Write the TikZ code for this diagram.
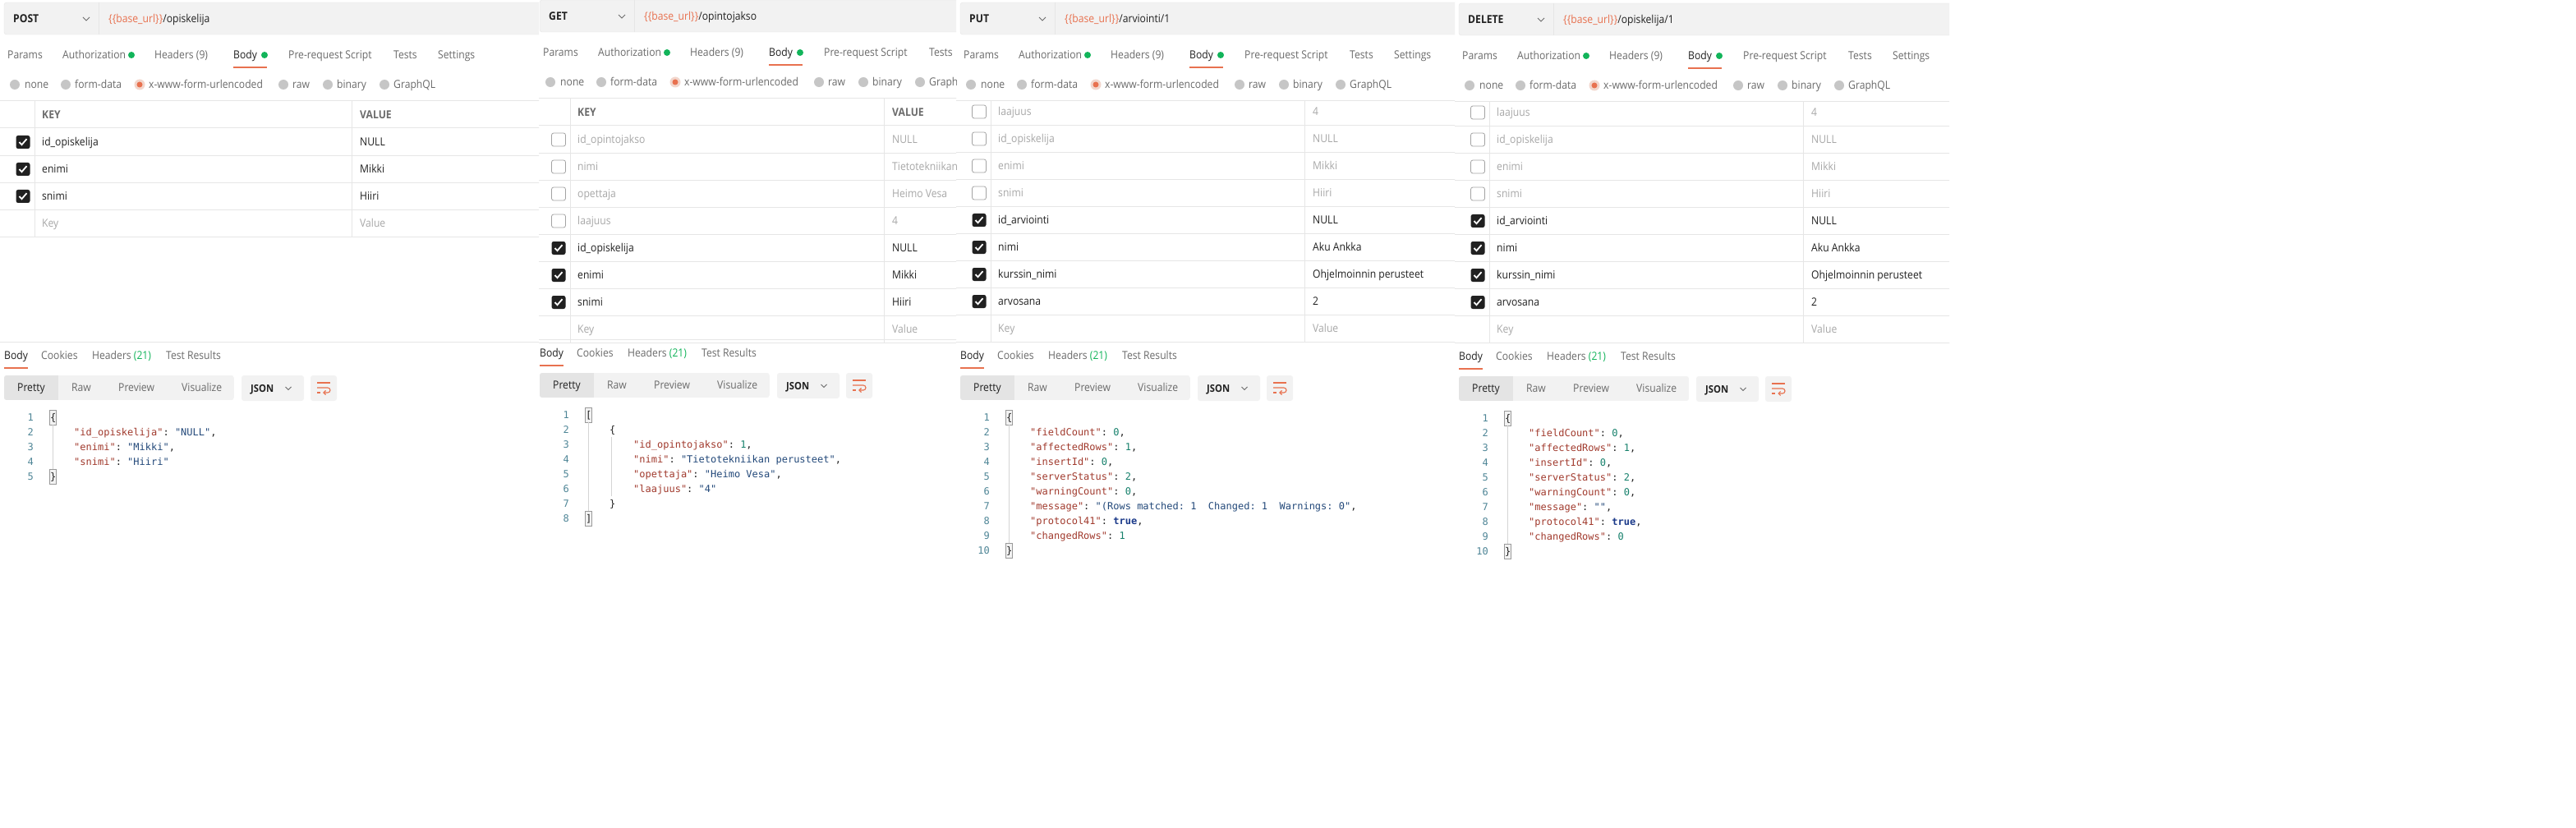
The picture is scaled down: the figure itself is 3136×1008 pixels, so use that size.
\documentclass[tikz,border=0pt]{standalone}
\usepackage{fontspec}
\setmainfont{Open Sans}[FakeStretch=0.9]
\setmonofont{DejaVu Sans Mono}
\usetikzlibrary{positioning}

\definecolor{uitext}{HTML}{212121}
\definecolor{uigray}{HTML}{6B6B6B}
\definecolor{uilight}{HTML}{A8A8A8}
\definecolor{uiline}{HTML}{E6E6E6}
\definecolor{barfill}{HTML}{F2F2F2}
\definecolor{barsel}{HTML}{E4E4E4}
\definecolor{pmorange}{HTML}{E8714F}
\definecolor{pmgreen}{HTML}{12B45A}
\definecolor{radiogray}{HTML}{C6C6C6}
\definecolor{radioring}{HTML}{F2D6CC}
\definecolor{boxgray}{HTML}{A3A3A3}
\definecolor{jsonkey}{HTML}{A13A2D}
\definecolor{jsonstr}{HTML}{23497A}
\definecolor{jsonnum}{HTML}{15806B}
\definecolor{jsonbool}{HTML}{1B3A8A}
\definecolor{lineno}{HTML}{4E8596}
\definecolor{guide}{HTML}{D4D4D4}

\newcommand{\uifont}{\fontsize{13.5}{16}\selectfont}
\newcommand{\codefont}{\ttfamily\fontsize{12}{14}\selectfont}
\newcommand{\jk}[1]{\textcolor{jsonkey}{"#1"}}
\newcommand{\js}[1]{\textcolor{jsonstr}{"#1"}}
\newcommand{\jn}[1]{\textcolor{jsonnum}{#1}}
\newcommand{\jb}[1]{\textcolor{jsonbool}{\bfseries #1}}

\tikzset{
  ui/.style={font=\uifont, text=uigray, anchor=west, inner sep=0pt,
    text height=9.4pt, text depth=0pt},
  uidark/.style={ui, text=uitext},
  uidim/.style={ui, text=uilight},
  uibold/.style={ui, font=\uifont\bfseries},
  txton/.style={uidark},
  txtoff/.style={uidim},
  code/.style={font=\codefont, text=uitext, anchor=west, inner sep=0pt,
    text height=8.7pt, text depth=0pt},
  lnum/.style={code, text=lineno, anchor=east},
  rule/.style={draw=uiline, line width=1pt},
  greendot/.style={fill=pmgreen},
  tabline/.style={draw=pmorange, line width=2.5pt},
  chev/.style={draw=uigray, line width=0.9pt},
  radio/.style={fill=radiogray},
  tick/.style={draw=white, line width=1.8pt, sharp corners},
  checkon/.style={fill=uitext, rounded corners=2.5pt,
    path picture={\draw[tick]
      ([shift={(-4.5,0)}]path picture bounding box.center) --
      ([shift={(-1.5,3.2)}]path picture bounding box.center) --
      ([shift={(4.5,-3.8)}]path picture bounding box.center);}},
  checkoff/.style={draw=boxgray, fill=white, line width=0.8pt, rounded corners=2.5pt},
  bracebox/.style={draw=gray!80, fill=barfill, line width=0.6pt},
  guideline/.style={draw=guide, line width=0.8pt},
  wrapicon/.style={draw=pmorange, line width=1.1pt},
}

% request bar, tabs and body type row of one panel
\newcommand{\reqhead}[2]{%
  \filldraw[fill=barfill, draw=uiline, rounded corners=3pt] (5,3) rectangle (720,42);
  \draw[rule] (120,3) -- (120,42);
  \node[uibold, text=uitext] (method) at (16,22.5) {#1};
  \draw[chev] (101,21) -- (105,25) -- (109,21);
  \node[uidark] (url) at (132,22.5) {\textcolor{pmorange}{\{\{base\_url\}\}}#2};
  \node[ui] (params) at (9,67) {Params};
  \node[ui] (auth) at (76,67) {Authorization};
  \fill[greendot] (160,67) circle[radius=4];
  \node[ui] (headers) at (188,67) {Headers (9)};
  \node[uidark] (body) at (284,67) {Body};
  \fill[greendot] (322,67) circle[radius=4];
  \draw[tabline] (284,82) -- (325,82);
  \node[ui] (script) at (351,67) {Pre-request Script};
  \node[ui] (tests) at (479,67) {Tests};
  \foreach \cx/\tx/\lab in {18/30/none, 80/91/form-data, 345/356/raw, 399/410/binary, 468/479/GraphQL}{
    \fill[radio] (\cx,103) circle[radius=6];
    \node[ui] (radio-\lab) at (\tx,103) {\lab};
  }
  \fill[radioring] (170,103) circle[radius=6.5];
  \fill[pmorange] (170,103) circle[radius=3.5];
  \node[ui] (radio-url) at (181,103) {x-www-form-urlencoded};
}

% table frame down to #1
\newcommand{\kvframe}[1]{%
  \draw[rule] (0,123) -- (720,123);
  \draw[rule] (42,123) -- (42,#1);
  \draw[rule] (\vcol,123) -- (\vcol,#1);
}
\newcommand{\keyhead}{%
  \node[uibold] (keyhead) at (51,139.5) {KEY};
  \node[uibold] (valuehead) at (\vcol+10,139.5) {VALUE};
  \draw[rule] (0,156) -- (720,156);
}
% index, centre y, key, value, on/off
\newcommand{\kvrow}[5]{%
  \draw[rule] (0,#2+16.5) -- (720,#2+16.5);
  \path[check#5] (19.5,#2-8) rectangle (36.5,#2+8);
  \node[txt#5] (key-#1) at (51,#2) {#3};
  \node[txt#5] (value-#1) at (\vcol+10,#2) {#4};
}
\newcommand{\newrow}[1]{%
  \draw[rule] (0,#1+16.5) -- (720,#1+16.5);
  \node[uidim] (key-new) at (51,#1) {Key};
  \node[uidim] (value-new) at (\vcol+10,#1) {Value};
}

% response tabs and toolbar
\newcommand{\resphead}{%
  \draw[rule] (0,416) -- (720,416);
  \node[uidark] (rbody) at (5,433) {Body};
  \draw[tabline] (5,448) -- (34,448);
  \node[ui] (cookies) at (50,433) {Cookies};
  \node[ui] (rheaders) at (112,433) {Headers \textcolor{pmgreen}{(21)}};
  \node[ui] (results) at (202,433) {Test Results};
  \begin{scope}
    \clip[rounded corners=3pt] (5,457) rectangle (285,487);
    \fill[barfill] (5,457) rectangle (285,487);
    \fill[barsel] (5,457) rectangle (71,487);
  \end{scope}
  \node[uidark] (pretty) at (21,472) {Pretty};
  \node[ui] (raw) at (87,472) {Raw};
  \node[ui] (preview) at (144,472) {Preview};
  \node[ui] (visualize) at (221,472) {Visualize};
  \fill[barfill, rounded corners=3pt] (294,457) rectangle (370,488);
  \node[uibold, text=uitext, font=\fontsize{12.5}{15}\selectfont\bfseries] (json) at (305,473) {JSON};
  \draw[chev] (347.5,471) -- (351,474.5) -- (354.5,471);
  \fill[barfill, rounded corners=3pt] (378,457) rectangle (410,488);
  \draw[wrapicon] (386,466) -- (402,466);
  \draw[wrapicon] (386,472) -- (399,472) arc[start angle=-90, end angle=90, radius=3] -- (394,478);
  \draw[wrapicon] (396.5,475.5) -- (394,478) -- (396.5,480.5);
  \draw[wrapicon] (386,478) -- (390,478);
}
\newcommand{\linenos}[1]{%
  \foreach \n in {1,...,#1} \node[lnum] (ln-\n) at (41,490+18*\n) {\n};
}
% name, x, y, bracket
\newcommand{\matchbox}[4]{%
  \draw[bracebox] (#2-1,#3-9) rectangle (#2+7.5,#3+9);
  \node[code] (#1) at (#2,#3) {#4};
}

\begin{document}
\begin{tikzpicture}[x=1pt, y=-1pt]
  \useasboundingbox (0,0) rectangle (3136,1008);
  \fill[white] (0,0) rectangle (3136,1008);

  % POST
  \begin{scope}[shift={(0,0)}, name prefix=post-]
    \def\vcol{428}
    \clip (0,0) rectangle (656,1008);
    \reqhead{POST}{/opiskelija}
    \node[ui] (settings) at (533,67) {Settings};
    \kvframe{288}
    \keyhead
    \foreach \kname/\kval/\kon [count=\i] in {id\_opiskelija/NULL/on, enimi/Mikki/on, snimi/Hiiri/on}
      {\kvrow{\i}{140+33*\i}{\kname}{\kval}{\kon}}
    \newrow{272}
    \resphead
    \linenos{5}
    \matchbox{open}{61}{508}{\{}
    \node[code] (c2) at (90,526) {\jk{id\_opiskelija}: \js{NULL},};
    \node[code] (c3) at (90,544) {\jk{enimi}: \js{Mikki},};
    \node[code] (c4) at (90,562) {\jk{snimi}: \js{Hiiri}};
    \matchbox{close}{61}{580}{\}}
    \draw[guideline] (64,517) -- (64,571);
  \end{scope}

  % GET (cut at the right by the next panel)
  \begin{scope}[shift={(652,-3)}, name prefix=get-]
    \def\vcol{424}
    \clip (4,3) rectangle (512,1011);
    \reqhead{GET}{/opintojakso}
    \kvframe{420}
    \keyhead
    \foreach \kname/\kval/\kon [count=\i] in {id\_opintojakso/NULL/off, nimi/Tietotekniikan/off,
        opettaja/Heimo Vesa/off, laajuus/4/off, id\_opiskelija/NULL/on, enimi/Mikki/on, snimi/Hiiri/on}
      {\kvrow{\i}{140+33*\i}{\kname}{\kval}{\kon}}
    \newrow{404}
    \resphead
    \linenos{8}
    \matchbox{open}{61}{508}{[}
    \node[code] (c2) at (90,526) {\{};
    \node[code] (c3) at (119,544) {\jk{id\_opintojakso}: \jn{1},};
    \node[code] (c4) at (119,562) {\jk{nimi}: \js{Tietotekniikan perusteet},};
    \node[code] (c5) at (119,580) {\jk{opettaja}: \js{Heimo Vesa},};
    \node[code] (c6) at (119,598) {\jk{laajuus}: \js{4}};
    \node[code] (c7) at (90,616) {\}};
    \matchbox{close}{61}{634}{]}
    \draw[guideline] (64,517) -- (64,625);
    \draw[guideline] (92,535) -- (92,607);
  \end{scope}

  % PUT
  \begin{scope}[shift={(1164,0)}, name prefix=put-]
    \def\vcol{424}
    \clip (0,0) rectangle (607,1008);
    \reqhead{PUT}{/arviointi/1}
    \node[ui] (settings) at (533,67) {Settings};
    \kvframe{416}
    \foreach \kname/\kval/\kon [count=\i] in {laajuus/4/off, id\_opiskelija/NULL/off, enimi/Mikki/off,
        snimi/Hiiri/off, id\_arviointi/NULL/on, nimi/Aku Ankka/on, kurssin\_nimi/Ohjelmoinnin perusteet/on,
        arvosana/2/on}
      {\kvrow{\i}{103+33*\i}{\kname}{\kval}{\kon}}
    \newrow{400}
    \resphead
    \linenos{10}
    \matchbox{open}{61}{508}{\{}
    \node[code] (c2) at (90,526) {\jk{fieldCount}: \jn{0},};
    \node[code] (c3) at (90,544) {\jk{affectedRows}: \jn{1},};
    \node[code] (c4) at (90,562) {\jk{insertId}: \jn{0},};
    \node[code] (c5) at (90,580) {\jk{serverStatus}: \jn{2},};
    \node[code] (c6) at (90,598) {\jk{warningCount}: \jn{0},};
    \node[code] (c7) at (90,616) {\jk{message}: \js{(Rows matched: 1~~Changed: 1~~Warnings: 0},};
    \node[code] (c8) at (90,634) {\jk{protocol41}: \jb{true},};
    \node[code] (c9) at (90,652) {\jk{changedRows}: \jn{1}};
    \matchbox{close}{61}{670}{\}}
    \draw[guideline] (64,517) -- (64,661);
  \end{scope}

  % DELETE
  \begin{scope}[shift={(1771,1)}, name prefix=delete-]
    \def\vcol{424}
    \clip (0,-1) rectangle (602,1007);
    \reqhead{DELETE}{/opiskelija/1}
    \node[ui] (settings) at (533,67) {Settings};
    \kvframe{416}
    \foreach \kname/\kval/\kon [count=\i] in {laajuus/4/off, id\_opiskelija/NULL/off, enimi/Mikki/off,
        snimi/Hiiri/off, id\_arviointi/NULL/on, nimi/Aku Ankka/on, kurssin\_nimi/Ohjelmoinnin perusteet/on,
        arvosana/2/on}
      {\kvrow{\i}{103+33*\i}{\kname}{\kval}{\kon}}
    \newrow{400}
    \resphead
    \linenos{10}
    \matchbox{open}{61}{508}{\{}
    \node[code] (c2) at (90,526) {\jk{fieldCount}: \jn{0},};
    \node[code] (c3) at (90,544) {\jk{affectedRows}: \jn{1},};
    \node[code] (c4) at (90,562) {\jk{insertId}: \jn{0},};
    \node[code] (c5) at (90,580) {\jk{serverStatus}: \jn{2},};
    \node[code] (c6) at (90,598) {\jk{warningCount}: \jn{0},};
    \node[code] (c7) at (90,616) {\jk{message}: \js{},};
    \node[code] (c8) at (90,634) {\jk{protocol41}: \jb{true},};
    \node[code] (c9) at (90,652) {\jk{changedRows}: \jn{0}};
    \matchbox{close}{61}{670}{\}}
    \draw[guideline] (64,517) -- (64,661);
  \end{scope}
\end{tikzpicture}
\end{document}
